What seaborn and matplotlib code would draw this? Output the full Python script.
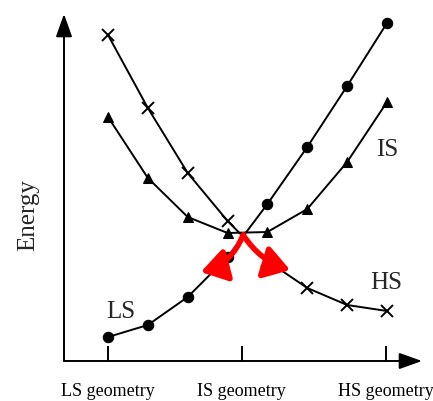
import matplotlib
matplotlib.use("Agg")
import matplotlib.pyplot as plt
import seaborn as sns

# geometry coordinate (0 = LS geometry ... 7 = HS geometry)
geom = [0, 1, 2, 3, 4, 5, 6, 7]
ls_energy = [2.4, 3.6, 6.4, 10.4, 15.7, 21.4, 27.5, 33.8]
is_energy = [24.4, 18.3, 14.4, 12.8, 12.9, 15.2, 19.9, 25.9]
hs_energy = [32.6, 25.3, 18.8, 14.0, 10.0, 7.3, 5.6, 5.0]

tick_pos = [0, 3.35, 6.97]
tick_labels = ["LS geometry", "IS geometry", "HS geometry"]

crossing = (3.39, 12.6)
arrow_left_end = (2.33, 8.9)
arrow_right_end = (4.57, 9.1)

sns.set_style("white")
plt.rcParams["font.family"] = ["Liberation Serif", "DejaVu Serif"]

fig = plt.figure(figsize=(4.33, 4.02), dpi=100)
ax = fig.add_axes([64 / 433, 40 / 402, 358 / 433, 347 / 402])

sns.lineplot(x=geom, y=ls_energy, color="black", marker="o", markersize=7.5,
             linewidth=1.4, markeredgecolor="black", ax=ax)
sns.lineplot(x=geom, y=is_energy, color="black", marker="^", markersize=7.5,
             linewidth=1.4, markeredgecolor="black", ax=ax)
sns.lineplot(x=geom, y=hs_energy, color="black", marker="x", markersize=8,
             linewidth=1.4, markeredgewidth=1.4, markeredgecolor="black", ax=ax)

ax.set_xlim(-1.104, 7.878)
ax.set_ylim(0, 34.7)

for s in ax.spines.values():
    s.set_visible(False)

# axes with arrow heads
for tip in [(1, 0), (0, 1)]:
    ax.annotate("", xy=tip, xytext=(0, 0), xycoords="axes fraction",
                arrowprops=dict(arrowstyle="-|>,head_length=0.7,head_width=0.25",
                                color="black", lw=1.4, shrinkA=0, shrinkB=0,
                                mutation_scale=20))

ax.set_xticks(tick_pos)
ax.set_xticklabels(tick_labels, fontsize=13)
ax.set_yticks([])
ax.tick_params(axis="x", direction="in", length=11, width=1.4, pad=15,
               bottom=True, colors="black")

ax.set_ylabel("Energy", fontsize=18)
ax.yaxis.set_label_coords(-0.068, 0.424)

ax.text(0.33, 5.0, "LS", fontsize=18, ha="center", va="center")
ax.text(7.0, 21.2, "IS", fontsize=18, ha="center", va="center")
ax.text(6.97, 7.9, "HS", fontsize=18, ha="center", va="center")

# red arrows from the crossing point
ax.annotate("", xy=arrow_left_end, xytext=crossing,
            arrowprops=dict(arrowstyle="-|>,head_length=0.7,head_width=0.45",
                            color="red", lw=4, shrinkA=0, shrinkB=0,
                            mutation_scale=22,
                            connectionstyle="arc3,rad=-0.25"))
ax.annotate("", xy=arrow_right_end, xytext=crossing,
            arrowprops=dict(arrowstyle="-|>,head_length=0.7,head_width=0.45",
                            color="red", lw=4, shrinkA=0, shrinkB=0,
                            mutation_scale=22,
                            connectionstyle="arc3,rad=0.18"))

fig.savefig("out.png", dpi=100)
